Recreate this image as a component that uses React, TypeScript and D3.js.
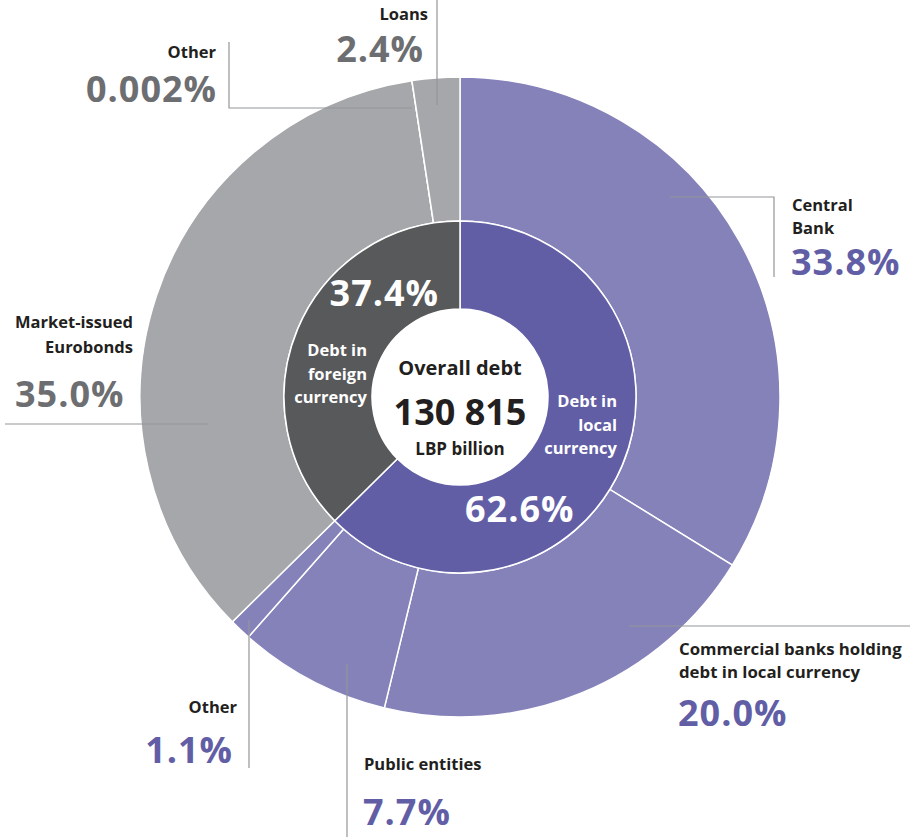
import React from "react";
import * as d3 from "d3";

const innerCategories = ["Debt in local currency", "Debt in foreign currency"];
const innerValues = [62.6, 37.4];
const outerCategories = [
  "Central Bank",
  "Commercial banks holding debt in local currency",
  "Public entities",
  "Other (local)",
  "Market-issued Eurobonds",
  "Other (foreign)",
  "Loans",
];
const outerValues = [33.8, 20.0, 7.7, 1.1, 35.0, 0.002, 2.4];
const outerPctLabels = ["33.8%", "20.0%", "7.7%", "1.1%", "35.0%", "0.002%", "2.4%"];
const innerPctLabels = ["62.6%", "37.4%"];
const totalLabel = "130 815";

const W = 916;
const H = 837;
const cx = 460;
const cy = 397;
const R_OUT = 320;
const R_MID = 176;
const R_IN = 88;

const C_OUT_LOCAL = "#8582ba";
const C_IN_LOCAL = "#625ea6";
const C_IN_FOREIGN = "#58595b";
const C_OUT_FOREIGN = "#a6a7aa";
const C_PCT_LOCAL = "#625ea6";
const C_PCT_FOREIGN = "#6d6e71";
const C_TEXT = "#231f20";
const C_LEADER = "#939598";

const FONT = "'Open Sans', 'Noto Sans', sans-serif";

export default function App() {
  const pie = d3.pie<number>().sort(null).startAngle(0).endAngle(2 * Math.PI);
  const outerArcs = pie(outerValues);
  const innerArcs = pie(innerValues);
  const arcOuter = d3.arc<d3.PieArcDatum<number>>().innerRadius(R_MID).outerRadius(R_OUT);
  const arcInner = d3.arc<d3.PieArcDatum<number>>().innerRadius(R_IN).outerRadius(R_MID);
  const outerColors = outerValues.map((_, i) => (i < 4 ? C_OUT_LOCAL : C_OUT_FOREIGN));
  const innerColors = [C_IN_LOCAL, C_IN_FOREIGN];

  const lab = (x: number, y: number, t: string, anchor: string, size = 16.5, fill = C_TEXT, weight = 700) => (
    <text x={x} y={y} textAnchor={anchor as any} fontSize={size} fontWeight={weight} fill={fill} fontFamily={FONT}>
      {t}
    </text>
  );
  const pct = (x: number, y: number, t: string, anchor: string, fill: string) => (
    <text x={x} y={y} textAnchor={anchor as any} fontSize={36} fontWeight={700} fill={fill} fontFamily={FONT} letterSpacing={1}>
      {t}
    </text>
  );

  return (
    <svg width={W} height={H} style={{ position: "absolute", left: 0, top: 0, background: "#fff" }}>
      <g transform={`translate(${cx},${cy})`}>
        {outerArcs.map((a, i) => (
          <path key={"o" + i} d={arcOuter(a) || ""} fill={outerColors[i]} stroke="#fff" strokeWidth={1.5} />
        ))}
        {innerArcs.map((a, i) => (
          <path key={"i" + i} d={arcInner(a) || ""} fill={innerColors[i]} stroke="#fff" strokeWidth={1.5} />
        ))}
        <circle r={R_IN} fill="#fff" />
      </g>

      {/* leader lines */}
      <g stroke={C_LEADER} strokeWidth={1.2} fill="none">
        <polyline points="437,0 437,105" />
        <polyline points="229,42 229,108 412,108" />
        <polyline points="670,197 774,197 774,277" />
        <polyline points="5,424 208,424" />
        <polyline points="249,620 249,768" />
        <polyline points="347,664 347,837" />
        <polyline points="629,626 910,626" />
      </g>

      {/* outer labels */}
      {lab(428, 20, "Loans", "end")}
      {pct(424, 62, outerPctLabels[6], "end", C_PCT_FOREIGN)}
      {lab(216, 58, "Other", "end")}
      {pct(217, 102, outerPctLabels[5], "end", C_PCT_FOREIGN)}
      {lab(792, 211, "Central", "start")}
      {lab(792, 234, "Bank", "start")}
      {pct(791, 275, outerPctLabels[0], "start", C_PCT_LOCAL)}
      {lab(133, 328, "Market-issued", "end")}
      {lab(133, 353, "Eurobonds", "end")}
      {pct(15, 407, outerPctLabels[4], "start", C_PCT_FOREIGN)}
      {lab(237, 713, "Other", "end")}
      {pct(233, 763, outerPctLabels[3], "end", C_PCT_LOCAL)}
      {lab(364, 770, "Public entities", "start")}
      {pct(363, 825, outerPctLabels[2], "start", C_PCT_LOCAL)}
      {lab(679, 655, "Commercial banks holding", "start", 16.8)}
      {lab(679, 678, "debt in local currency", "start", 16.8)}
      {pct(678, 726, outerPctLabels[1], "start", C_PCT_LOCAL)}

      {/* inner labels */}
      {pct(439, 306, innerPctLabels[1], "end", "#fff")}
      {lab(367, 356, "Debt in", "end", 16.5, "#fff", 700)}
      {lab(367, 380, "foreign", "end", 16.5, "#fff", 700)}
      {lab(367, 403, "currency", "end", 16.5, "#fff", 700)}
      {lab(617, 407, "Debt in", "end", 16.5, "#fff", 700)}
      {lab(617, 431, "local", "end", 16.5, "#fff", 700)}
      {lab(617, 454, "currency", "end", 16.5, "#fff", 700)}
      {pct(465, 522, innerPctLabels[0], "start", "#fff")}

      {/* center */}
      {lab(460, 375, "Overall debt", "middle", 20)}
      <text x={460} y={425} textAnchor="middle" fontSize={36} fontWeight={700} fill={C_TEXT} fontFamily={FONT}>
        {totalLabel}
      </text>
      {lab(460, 455, "LBP billion", "middle", 17)}
    </svg>
  );
}
